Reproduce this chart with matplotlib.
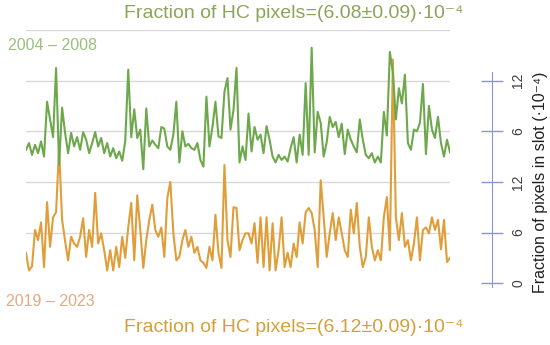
import numpy as np
import matplotlib
matplotlib.use("Agg")
import matplotlib.pyplot as plt

plt.rcParams["font.family"] = ["Liberation Sans", "DejaVu Sans"]

# Fraction of pixels in slot (x 1e-4), one value per slot
hc_2004_2008 = [
    3.8, 4.6, 3.2, 4.4, 3.4, 4.8, 3.0, 9.5, 7.4, 5.3, 13.5, 2.0, 8.8, 5.8, 3.4, 5.8,
    4.2, 5.3, 3.8, 5.9, 5.0, 3.4, 4.6, 5.9, 4.2, 5.2, 3.4, 4.6, 3.0, 4.0, 2.8, 3.6,
    2.5, 4.8, 13.3, 5.3, 8.6, 5.2, 6.2, 1.5, 8.7, 4.2, 4.9, 4.4, 4.0, 6.5, 6.3, 4.2,
    3.8, 5.6, 9.5, 2.3, 6.0, 4.2, 4.5, 4.0, 3.8, 4.6, 2.6, 1.8, 10.1, 4.2, 6.5, 9.5,
    5.4, 5.2, 10.7, 12.3, 6.2, 8.5, 13.5, 2.3, 4.2, 2.6, 8.1, 3.6, 6.5, 5.0, 5.6, 3.4,
    6.6, 5.0, 3.0, 2.3, 3.2, 2.6, 3.0, 2.4, 4.0, 5.3, 2.3, 5.6, 3.2, 11.7, 3.2, 15.9,
    3.5, 8.3, 7.0, 3.0, 4.7, 7.7, 6.5, 7.1, 5.3, 6.9, 3.3, 6.2, 5.0, 4.2, 3.5, 7.4,
    5.0, 3.2, 2.8, 3.4, 2.3, 3.0, 2.3, 8.3, 5.5, 15.4, 13.0, 7.4, 11.1, 9.3, 12.7, 4.6,
    3.8, 6.2, 6.0, 7.0, 11.6, 3.3, 9.0, 6.2, 5.2, 7.7, 4.6, 3.0, 5.0, 3.5,
]
hc_2019_2023 = [
    3.6, 1.5, 2.0, 6.3, 5.1, 7.2, 1.9, 9.6, 4.3, 7.8, 8.4, 16.0, 7.5, 5.0, 2.7, 5.5,
    4.7, 4.3, 5.5, 7.7, 3.1, 6.3, 4.3, 10.7, 4.7, 5.9, 3.9, 1.5, 3.9, 1.5, 4.3, 1.9,
    5.5, 3.0, 6.6, 9.5, 2.7, 10.4, 6.3, 1.8, 5.1, 7.5, 9.3, 6.3, 5.5, 6.6, 3.1, 10.1,
    12.0, 5.9, 2.7, 3.1, 5.1, 6.3, 4.3, 5.5, 3.6, 4.3, 2.7, 2.4, 1.8, 4.3, 2.7, 8.1,
    3.6, 1.8, 14.0, 5.1, 3.1, 9.0, 8.9, 3.9, 5.1, 5.9, 5.9, 4.7, 7.1, 2.4, 7.8, 1.9,
    7.8, 1.5, 7.1, 1.5, 3.9, 7.8, 1.9, 3.6, 1.9, 4.7, 3.1, 7.2, 4.7, 8.4, 8.9, 8.3,
    6.3, 1.9, 12.2, 7.8, 3.1, 5.9, 8.3, 5.1, 7.8, 5.9, 3.9, 3.1, 8.7, 5.9, 9.5, 4.3,
    1.9, 3.1, 7.8, 4.3, 2.7, 3.9, 2.7, 7.8, 10.2, 3.9, 26.5, 7.8, 5.1, 8.3, 4.3, 5.1,
    2.7, 4.7, 7.8, 2.7, 6.3, 6.6, 5.9, 7.8, 6.3, 7.5, 4.0, 7.5, 2.5, 3.0,
]
offset_top = 12  # the 2004-2008 trace sits 12 units above the 2019-2023 one

title_top = "Fraction of HC pixels=(6.08±0.09)·10⁻⁴"
title_bottom = "Fraction of HC pixels=(6.12±0.09)·10⁻⁴"
label_top = "2004 – 2008"
label_bottom = "2019 – 2023"
tick_pos = [0, 6, 12, 18, 24]
tick_labels = ["0", "6", "12", "6", "12"]
ylabel = "Fraction of pixels in slot (·10⁻⁴)"

GREEN = "#6ea84c"
ORANGE = "#e09e3a"

fig = plt.figure(figsize=(5.5, 3.45), dpi=100)
ax = fig.add_axes([26 / 550, 1 - 300 / 345, 424 / 550, 270 / 345])

t = np.arange(len(hc_2004_2008))
for g in [6, 12, 18, 24, 30]:
    ax.axhline(g, color="#d9d9d9", lw=1.0, zorder=0)

ax.plot(t, np.array(hc_2019_2023), color=ORANGE, lw=1.5, zorder=2)
ax.plot(t, np.array(hc_2004_2008) + offset_top, color=GREEN, lw=1.5, zorder=3)

ax.set_xlim(0, len(t) - 1)
ax.set_ylim(-2, 30)
ax.set_xticks([])
for side in ["top", "bottom", "left"]:
    ax.spines[side].set_visible(False)

ax.spines["right"].set_position(("axes", (492 - 26) / 424))
ax.spines["right"].set_bounds(-0.4, 25)
ax.spines["right"].set_color("#8896d6")
ax.yaxis.tick_right()
ax.set_yticks(tick_pos)
ax.set_yticklabels(tick_labels, rotation=90, va="center")
ax.tick_params(axis="y", direction="inout", length=16, width=1,
               color="#8896d6", labelcolor="#404040", labelsize=10, pad=6)

fig.text(294 / 550, 1 - 14 / 345, title_top, color="#8aa55a",
         fontsize=14, ha="center", va="center")
fig.text(294 / 550, 1 - 328 / 345, title_bottom, color="#d4a03c",
         fontsize=14, ha="center", va="center")
fig.text(8 / 550, 1 - 46 / 345, label_top, color="#9cbf7a",
         fontsize=11.5, ha="left", va="center")
fig.text(6 / 550, 1 - 302 / 345, label_bottom, color="#e6a882",
         fontsize=11.5, ha="left", va="center")
fig.text(540 / 550, 1 - 182 / 345, ylabel, color="#202020",
         fontsize=11.5, rotation=90, ha="center", va="center")

fig.savefig("out.png", dpi=100)
